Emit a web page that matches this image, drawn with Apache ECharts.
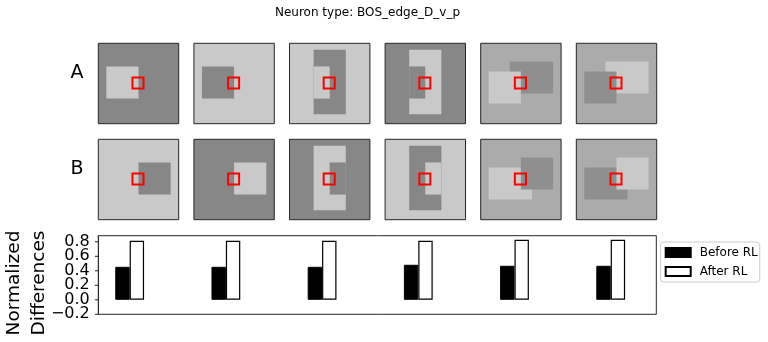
<!DOCTYPE html>
<html>
<head>
<meta charset="utf-8">
<script src="https://cdn.jsdelivr.net/npm/echarts@6/dist/echarts.min.js"></script>
<style>
html,body{margin:0;padding:0;background:#fff;}
#chart{width:768px;height:342px;}
</style>
</head>
<body>
<div id="chart"></div>
<script>
// ---------- data ----------
const titleText = 'Neuron type: BOS_edge_D_v_p';
const rowLabels = ['A', 'B'];
// gray levels (0 = black, 1 = white)
const DARK = 0.53, LIGHT = 0.79, MID = 0.67, DARK2 = 0.56;
const imageSize = 80;
const receptiveField = [34, 34, 45, 45];
// row A stimuli: background level and rectangles [x0, y0, x1, y1, level] in drawing order
const bgA = [DARK, LIGHT, LIGHT, DARK, MID, MID];
const shapesA = [
  [[8, 23, 40, 55, LIGHT]],
  [[8, 23, 40, 55, DARK]],
  [[24, 6.5, 56, 70.5, DARK], [24, 23, 40, 55, LIGHT]],
  [[24, 6.5, 56, 70.5, LIGHT], [24, 23, 40, 55, DARK]],
  [[29, 18, 72, 50, DARK2], [8, 28, 40, 60, LIGHT]],
  [[29, 18, 72, 50, LIGHT], [8, 28, 40, 60, DARK2]]
];
// row B stimuli
const bgB = [LIGHT, DARK, DARK, LIGHT, MID, MID];
const shapesB = [
  [[40, 23, 72, 55, DARK]],
  [[40, 23, 72, 55, LIGHT]],
  [[24, 6.5, 56, 70.5, LIGHT], [40, 23, 56, 55, DARK]],
  [[24, 6.5, 56, 70.5, DARK], [40, 23, 56, 55, LIGHT]],
  [[8, 28, 51, 60, LIGHT], [40, 18, 72, 50, DARK2]],
  [[8, 28, 51, 60, DARK2], [40, 18, 72, 50, LIGHT]]
];
// bar chart
const groups = [0, 1, 2, 3, 4, 5];
const beforeRL = [0.455, 0.455, 0.455, 0.483, 0.469, 0.469];
const afterRL = [0.814, 0.814, 0.814, 0.814, 0.828, 0.828];
const yTicks = [-0.2, 0, 0.2, 0.4, 0.6, 0.8];
const seriesNames = ['Before RL', 'After RL'];
const yLabel = 'Normalized\nDifferences';

// ---------- build ----------
const FONT = '"DejaVu Sans", sans-serif';
const grids = [], xAxes = [], yAxes = [], series = [];
const panelSize = 80.4, panelLeft0 = 98.3, panelStep = 95.6, rowTops = [43.3, 139.3];
const xMin = -0.326, xMax = 5.474, yMin = -0.2, yMax = 0.884;

function grayColor(v) { const g = Math.round(v * 255); return 'rgb(' + g + ',' + g + ',' + g + ')'; }
function rectShape(api) {
  const p0 = api.coord([api.value(0), api.value(1)]);
  const p1 = api.coord([api.value(2), api.value(3)]);
  return { x: Math.min(p0[0], p1[0]), y: Math.min(p0[1], p1[1]),
           width: Math.abs(p1[0] - p0[0]), height: Math.abs(p1[1] - p0[1]) };
}

[[bgA, shapesA], [bgB, shapesB]].forEach(function (row, r) {
  const bgs = row[0], shapes = row[1];
  bgs.forEach(function (bg, c) {
    const idx = grids.length;
    grids.push({ left: panelLeft0 + c * panelStep, top: rowTops[r], width: panelSize, height: panelSize, containLabel: false });
    xAxes.push({ type: 'value', gridIndex: idx, min: 0, max: imageSize, show: false });
    yAxes.push({ type: 'value', gridIndex: idx, min: 0, max: imageSize, inverse: true, show: false });
    const data = [[0, 0, imageSize, imageSize, bg]].concat(shapes[c]);
    series.push({
      type: 'custom', xAxisIndex: idx, yAxisIndex: idx, silent: true, animation: false,
      data: data,
      renderItem: function (params, api) {
        return { type: 'rect', shape: rectShape(api), style: { fill: grayColor(api.value(4)) } };
      }
    });
    // receptive field box (kind 0) and frame (kind 1)
    series.push({
      type: 'custom', xAxisIndex: idx, yAxisIndex: idx, silent: true, animation: false,
      data: [receptiveField.concat([0]), [0, 0, imageSize, imageSize, 1]],
      renderItem: function (params, api) {
        const kind = api.value(4);
        return { type: 'rect', shape: rectShape(api),
                 style: kind === 0 ? { fill: 'none', stroke: '#ff0000', lineWidth: 2 }
                                   : { fill: 'none', stroke: '#262626', lineWidth: 1 } };
      }
    });
  });
});

const barIdx = grids.length;
grids.push({ left: 98.3, top: 235.7, width: 558, height: 78.6, show: true, borderColor: '#262626', borderWidth: 1, backgroundColor: '#fff' });
xAxes.push({ type: 'value', gridIndex: barIdx, min: xMin, max: xMax, show: false });
yAxes.push({
  type: 'value', gridIndex: barIdx, min: yMin, max: yMax,
  splitLine: { show: false },
  axisLine: { show: true, onZero: false, lineStyle: { color: '#262626', width: 1 } },
  axisTick: { show: false },
  axisLabel: { show: false }
});
series.push({
  name: seriesNames[0], type: 'bar', xAxisIndex: barIdx, yAxisIndex: barIdx,
  data: groups.map(function (g, i) { return [g, beforeRL[i]]; }),
  barWidth: 14.4, barGap: '0%', animation: false,
  itemStyle: { color: '#000', borderColor: '#000', borderWidth: 1 }
});
series.push({
  name: seriesNames[1], type: 'bar', xAxisIndex: barIdx, yAxisIndex: barIdx,
  data: groups.map(function (g, i) { return [g, afterRL[i]]; }),
  barWidth: 14.4, barGap: '0%', animation: false,
  itemStyle: { color: '#fff', borderColor: '#000', borderWidth: 1.2 }
});
// y ticks and tick labels placed through the y scale
series.push({
  type: 'custom', xAxisIndex: barIdx, yAxisIndex: barIdx, silent: true, animation: false, clip: false,
  data: yTicks.map(function (v) { return [xMin, v]; }),
  renderItem: function (params, api) {
    const p = api.coord([api.value(0), api.value(1)]);
    const v = api.value(1);
    const label = (Math.abs(v) < 1e-9 ? 0 : v).toFixed(1).replace('-', '\u2212');
    return { type: 'group', children: [
      { type: 'line', shape: { x1: p[0] - 3.5, y1: p[1], x2: p[0], y2: p[1] }, style: { stroke: '#262626', lineWidth: 1 } },
      { type: 'text', x: p[0] - 8.5, y: p[1], style: { text: label, font: '16px ' + FONT, fill: '#000', align: 'right', verticalAlign: 'middle' } }
    ] };
  }
});

const chart = echarts.init(document.getElementById('chart'), null, { renderer: 'canvas' });
chart.setOption({
  backgroundColor: '#fff',
  animation: false,
  grid: grids, xAxis: xAxes, yAxis: yAxes, series: series,
  legend: {
    data: seriesNames.map(function (n) { return { name: n, icon: 'rect' }; }),
    orient: 'vertical', left: 660.7, top: 242,
    itemWidth: 25, itemHeight: 9, itemGap: 6,
    padding: [4, 2, 4, 4],
    borderColor: '#cccccc', borderWidth: 1, borderRadius: 3, backgroundColor: '#fff',
    textStyle: { fontSize: 12, fontFamily: FONT, color: '#000', lineHeight: 13, padding: [0, 0, 0, 4] },
    selectedMode: false
  },
  graphic: [
    { type: 'text', x: 367.5, y: 13, style: { text: titleText, font: '12px ' + FONT, fill: '#000', align: 'center', verticalAlign: 'middle' } },
    { type: 'text', x: 77, y: 73, style: { text: rowLabels[0], font: '19px ' + FONT, fill: '#000', align: 'center', verticalAlign: 'middle' } },
    { type: 'text', x: 77, y: 169, style: { text: rowLabels[1], font: '19px ' + FONT, fill: '#000', align: 'center', verticalAlign: 'middle' } },
    { type: 'text', x: 27, y: 283, rotation: Math.PI / 2, style: { text: yLabel, font: '18.5px ' + FONT, fill: '#000', align: 'center', verticalAlign: 'middle', lineHeight: 25 } }
  ]
});
</script>
</body>
</html>
